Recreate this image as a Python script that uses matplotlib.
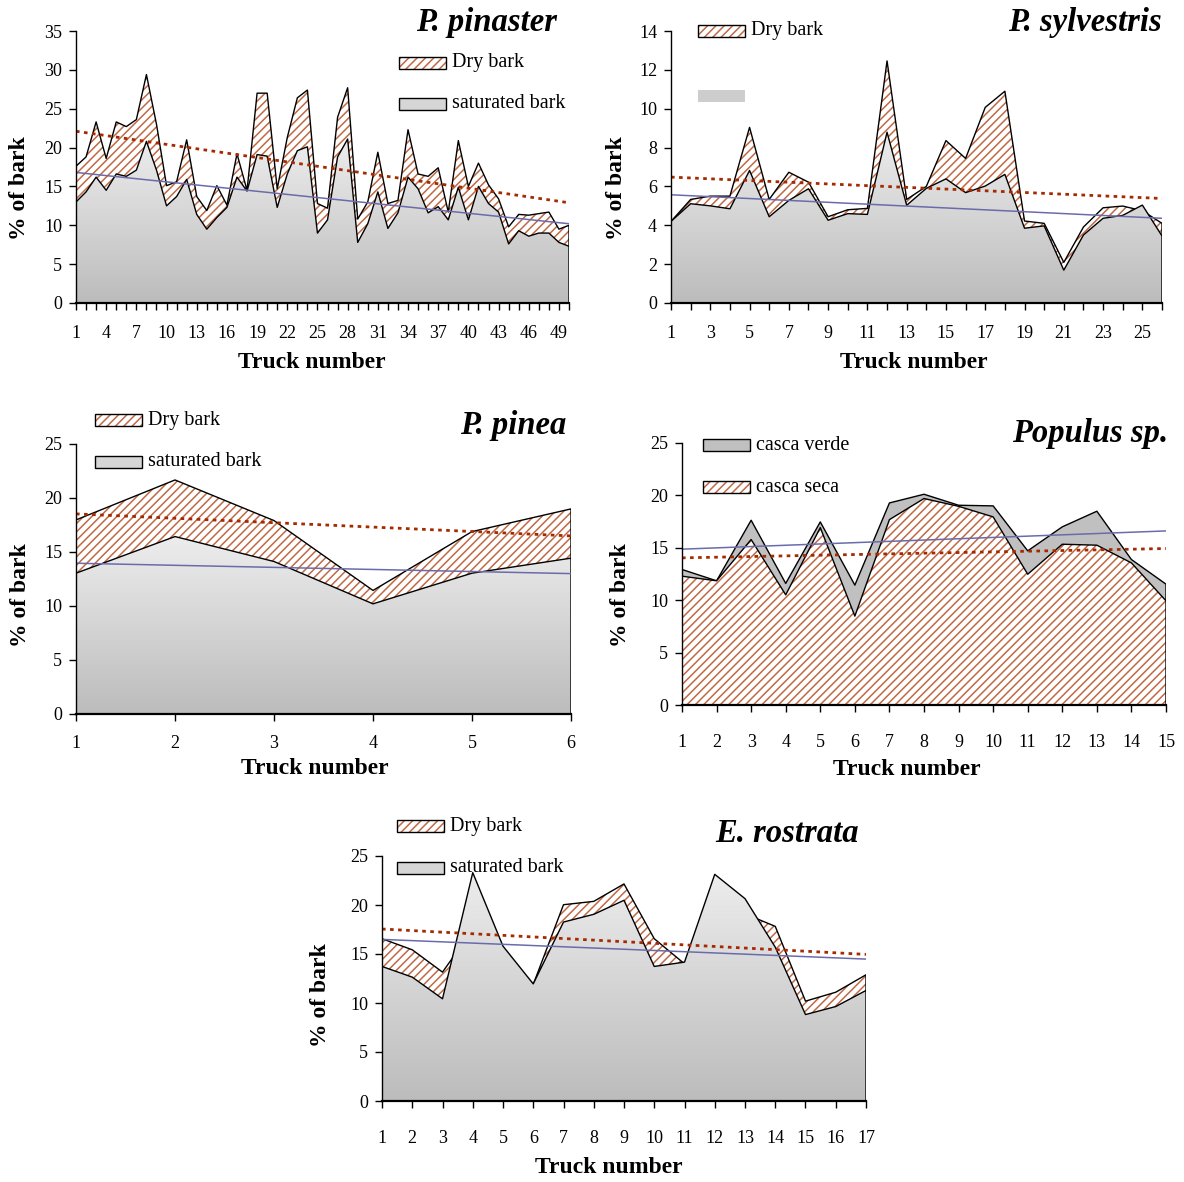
"""Bark percentage per truck — five species panels."""
import numpy as np
import matplotlib
matplotlib.use("Agg")
import matplotlib.pyplot as plt
from matplotlib.patches import Rectangle, Polygon
from matplotlib.colors import LinearSegmentedColormap

plt.rcParams["font.family"] = ["Liberation Serif", "DejaVu Serif"]
plt.rcParams["hatch.linewidth"] = 1.1

W, H = 1184, 1182
HATCH = "#c06a45"
DRY_TREND = "#a52a00"
SAT_TREND = "#6b6bab"

# ---- data ----
pinaster_dry = [17.6, 18.8, 23.3, 18.6, 23.3, 22.7, 23.6, 29.4, 23.0, 15.1,
                15.6, 21.0, 13.7, 11.9, 15.1, 12.6, 19.2, 14.5, 27.0, 27.0,
                14.7, 21.3, 26.4, 27.4, 12.8, 12.2, 23.9, 27.7, 10.8, 13.0,
                19.4, 12.8, 13.2, 22.3, 16.6, 16.3, 17.4, 11.7, 20.9, 15.0,
                18.0, 15.2, 13.4, 9.8, 11.4, 11.3, 11.5, 11.7, 9.5, 10.0]
pinaster_sat = [13.0, 14.3, 16.2, 14.5, 16.6, 16.3, 17.1, 20.8, 17.1, 12.5,
                13.7, 15.9, 11.4, 9.5, 11.0, 12.3, 16.2, 14.4, 19.1, 18.9,
                12.3, 16.6, 19.6, 20.1, 9.0, 10.7, 18.8, 21.1, 7.8, 10.2,
                14.3, 9.6, 11.6, 16.2, 14.7, 11.6, 12.4, 10.7, 14.9, 10.7,
                15.0, 12.8, 11.7, 7.6, 9.3, 8.6, 9.0, 9.0, 7.8, 7.3]
pinaster_trend_dry = [22.1, 12.9]
pinaster_trend_sat = [16.8, 10.2]

sylvestris_dry = [4.2, 5.33, 5.5, 5.5, 9.04, 5.33, 6.73, 6.22, 4.44, 4.8,
                  4.87, 12.46, 5.33, 6.0, 8.36, 7.44, 10.07, 10.9, 4.22, 4.1,
                  2.09, 3.91, 4.9, 4.99, 4.75, 4.1]
sylvestris_sat = [4.2, 5.11, 5.0, 4.85, 6.82, 4.44, 5.28, 5.88, 4.26, 4.6,
                  4.56, 8.79, 5.03, 5.9, 6.39, 5.68, 6.02, 6.62, 3.85, 3.97,
                  1.69, 3.5, 4.36, 4.51, 5.04, 3.45]
sylvestris_trend_dry = [6.48, 5.38]
sylvestris_trend_sat = [5.57, 4.36]

pinea_dry = [17.97, 21.67, 17.91, 11.44, 16.89, 18.99]
pinea_sat = [13.04, 16.43, 14.12, 10.2, 13.04, 14.43]
pinea_trend_dry = [18.53, 16.49]
pinea_trend_sat = [13.96, 13.0]

populus_verde = [12.93, 11.85, 17.63, 11.6, 17.47, 11.44, 19.28, 20.11, 19.06,
                 19.0, 14.71, 17.0, 18.49, 13.88, 11.53]
populus_seca = [12.29, 11.85, 15.79, 10.51, 16.93, 8.48, 17.69, 19.7, 18.96,
                17.95, 12.48, 15.34, 15.25, 13.56, 9.94]
populus_trend_verde = [14.87, 16.61]
populus_trend_seca = [14.04, 14.93]

rostrata_dry = [16.56, 15.43, 13.15, 17.5, 15.0, 11.9, 20.03, 20.37, 22.15,
                16.56, 14.0, 18.5, 19.1, 17.82, 10.19, 11.1, 12.88]
rostrata_sat = [13.73, 12.64, 10.43, 23.3, 15.8, 11.95, 18.26, 19.05, 20.48,
                13.73, 14.17, 23.13, 20.65, 15.7, 8.82, 9.64, 11.28]
rostrata_trend_dry = [17.55, 14.96]
rostrata_trend_sat = [16.49, 14.48]

fig = plt.figure(figsize=(W / 100, H / 100), dpi=100)


def px_axes(l, t, r, b):
    return fig.add_axes([l / W, 1 - b / H, (r - l) / W, (b - t) / H])


def area_poly(x, y):
    return np.column_stack([np.r_[x[0], x, x[-1]], np.r_[0, y, 0]])


def hatch_area(ax, x, y, z):
    ax.add_patch(Polygon(area_poly(x, y), closed=True, facecolor="white",
                         edgecolor=HATCH, hatch="////", lw=0, zorder=z))
    v = area_poly(x, y)
    ax.plot(v[:, 0], v[:, 1], color="black", lw=1.0, zorder=z + 0.5)


def gray_area(ax, x, y, z, gradient=True):
    v = area_poly(x, y)
    if gradient:
        patch = Polygon(v, closed=True, facecolor="none", edgecolor="none", zorder=z)
        ax.add_patch(patch)
        cmap = LinearSegmentedColormap.from_list("bark", ["#ededed", "#bcbcbc"])
        im = ax.imshow(np.linspace(0, 1, 256).reshape(-1, 1),
                       extent=[x[0], x[-1], 0, max(y)], aspect="auto", cmap=cmap,
                       origin="upper", zorder=z, interpolation="bilinear")
        im.set_clip_path(patch)
    else:
        ax.add_patch(Polygon(v, closed=True, facecolor="#c0c0c0",
                             edgecolor="none", zorder=z))
    ax.plot(v[:, 0], v[:, 1], color="black", lw=1.0, zorder=z + 0.5)


def trends(ax, n, dotted, solid):
    ax.plot([1, n], solid, color=SAT_TREND, lw=1.1, zorder=6)
    ax.plot([1, n], dotted, color=DRY_TREND, lw=2.0, ls=(0, (1.3, 1.6)), zorder=6)


def style(ax, n, ymax, ystep, every, xpad, title, tpos, ylab, xlab):
    ax.set_xlim(1, n)
    ax.set_ylim(0, ymax)
    for s in ["top", "right"]:
        ax.spines[s].set_visible(False)
    ax.spines["left"].set_linewidth(1.0)
    ax.spines["bottom"].set_linewidth(1.6)
    ax.spines["left"].set_zorder(8)
    ax.spines["bottom"].set_zorder(8)
    ticks = np.arange(1, n + 1)
    ax.set_xticks(ticks)
    ax.set_xticklabels([str(t) if (t - 1) % every == 0 else "" for t in ticks])
    ax.set_yticks(np.arange(0, ymax + 0.1, ystep))
    ax.tick_params(axis="both", direction="out", length=5, width=1.0, labelsize=13)
    ax.tick_params(axis="x", pad=xpad)
    ax.tick_params(axis="y", pad=5)
    ax.text(tpos[0], tpos[1], title, transform=ax.transAxes, ha="right", va="center",
            fontsize=23.5, fontweight="bold", fontstyle="italic")
    ax.text(ylab[0], ylab[1], "% of bark", transform=ax.transAxes, rotation=90,
            ha="center", va="center", fontsize=17, fontweight="bold")
    ax.text(xlab[0], xlab[1], "Truck number", transform=ax.transAxes,
            ha="center", va="center", fontsize=17, fontweight="bold")


def legend_entry(l, cy, label, kind):
    bw, bh = 47, 12
    xy = (l / W, 1 - (cy + bh / 2) / H)
    if kind == "hatch":
        fig.add_artist(Rectangle(xy, bw / W, bh / H, facecolor="white", edgecolor=HATCH,
                                 hatch="////", lw=0))
        fig.add_artist(Rectangle(xy, bw / W, bh / H, facecolor="none",
                                 edgecolor="black", lw=1.0))
    elif kind == "grad":
        fig.add_artist(Rectangle(xy, bw / W, bh / H, facecolor="#d6d6d6",
                                 edgecolor="black", lw=1.0))
    elif kind == "flat":
        fig.add_artist(Rectangle(xy, bw / W, bh / H, facecolor="#c0c0c0",
                                 edgecolor="black", lw=1.0))
    else:
        fig.add_artist(Rectangle(xy, bw / W, bh / H, facecolor="#cdcdcd",
                                 edgecolor="none", lw=0))
    if label:
        fig.text((l + 53) / W, 1 - cy / H, label, ha="left", va="center", fontsize=14.5)


# P. pinaster
ax = px_axes(76, 31, 569, 303)
x = np.arange(1, len(pinaster_dry) + 1)
hatch_area(ax, x, pinaster_dry, 1)
gray_area(ax, x, pinaster_sat, 2)
trends(ax, len(x), pinaster_trend_dry, pinaster_trend_sat)
style(ax, len(x), 35, 5, 3, 11, "P. pinaster", (0.976, 1.033),
      (-0.114, 0.423), (0.479, -0.217))
legend_entry(399, 63, "Dry bark", "hatch")
legend_entry(399, 104, "saturated bark", "grad")

# P. sylvestris
ax = px_axes(671, 31, 1162, 303)
x = np.arange(1, len(sylvestris_dry) + 1)
hatch_area(ax, x, sylvestris_dry, 1)
gray_area(ax, x, sylvestris_sat, 2)
trends(ax, len(x), sylvestris_trend_dry, sylvestris_trend_sat)
style(ax, len(x), 14, 2, 2, 11, "P. sylvestris", (1.0, 1.033),
      (-0.112, 0.423), (0.495, -0.217))
legend_entry(698, 31, "Dry bark", "hatch")
legend_entry(698, 96, "", "plain")

# P. pinea
ax = px_axes(76, 444, 571, 714)
x = np.arange(1, len(pinea_dry) + 1)
hatch_area(ax, x, pinea_dry, 1)
gray_area(ax, x, pinea_sat, 2)
trends(ax, len(x), pinea_trend_dry, pinea_trend_sat)
style(ax, len(x), 25, 5, 1, 10, "P. pinea", (0.99, 1.067),
      (-0.113, 0.44), (0.483, -0.2))
legend_entry(95, 420, "Dry bark", "hatch")
legend_entry(95, 462, "saturated bark", "grad")

# Populus sp.
ax = px_axes(682, 443, 1166, 705)
x = np.arange(1, len(populus_verde) + 1)
gray_area(ax, x, populus_verde, 1, gradient=False)
hatch_area(ax, x, populus_seca, 2)
trends(ax, len(x), populus_trend_seca, populus_trend_verde)
style(ax, len(x), 25, 5, 1, 16, "Populus sp.", (1.004, 1.038),
      (-0.128, 0.42), (0.465, -0.248))
legend_entry(703, 445, "casca verde", "flat")
legend_entry(703, 487, "casca seca", "hatch")

# E. rostrata
ax = px_axes(382, 856, 866, 1101)
x = np.arange(1, len(rostrata_dry) + 1)
hatch_area(ax, x, rostrata_dry, 1)
gray_area(ax, x, rostrata_sat, 2)
trends(ax, len(x), rostrata_trend_dry, rostrata_trend_sat)
style(ax, len(x), 25, 5, 1, 16, "E. rostrata", (0.986, 1.09),
      (-0.128, 0.433), (0.469, -0.273))
legend_entry(397, 826, "Dry bark", "hatch")
legend_entry(397, 868, "saturated bark", "grad")

fig.savefig("out.png", dpi=100)
